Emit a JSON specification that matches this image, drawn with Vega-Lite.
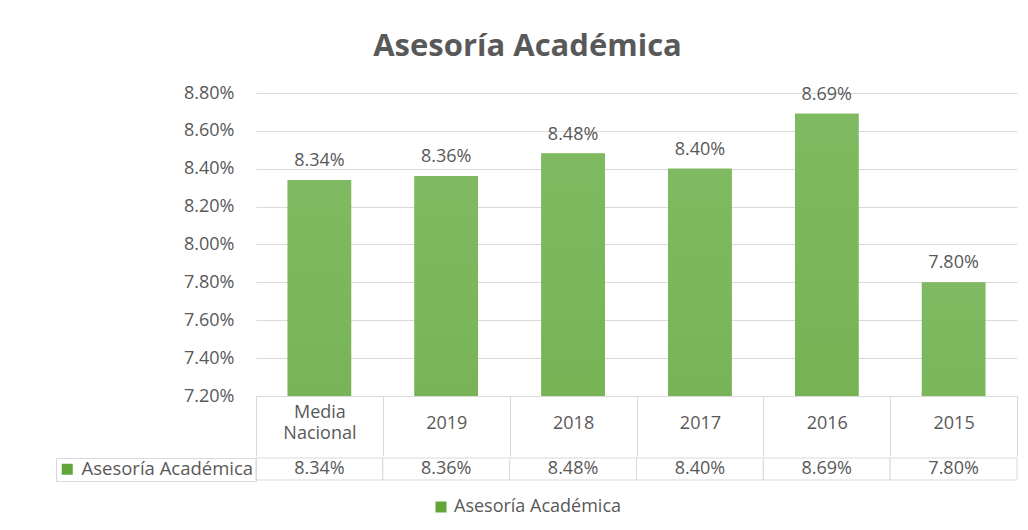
{
  "$schema": "https://vega.github.io/schema/vega-lite/v6.json",
  "padding": {"left": 55, "top": 31, "right": 10, "bottom": 10},
  "background": "white",
  "title": {
    "text": "Asesoría Académica",
    "font": "Open Sans",
    "fontSize": 31,
    "fontWeight": "bold",
    "color": "#595959",
    "anchor": "middle",
    "offset": 21,
    "dx": -9
  },
  "data": {
    "values": [
      {"category": "Media Nacional", "value": 0.0834, "series": "Asesoría Académica"},
      {"category": "2019", "value": 0.0836, "series": "Asesoría Académica"},
      {"category": "2018", "value": 0.0848, "series": "Asesoría Académica"},
      {"category": "2017", "value": 0.0840, "series": "Asesoría Académica"},
      {"category": "2016", "value": 0.0869, "series": "Asesoría Académica"},
      {"category": "2015", "value": 0.0780, "series": "Asesoría Académica"}
    ]
  },
  "spacing": 0,
  "resolve": {"scale": {"fill": "independent"}, "legend": {"fill": "independent"}},
  "vconcat": [
    {
      "width": 761,
      "height": 303,
      "encoding": {
        "x": {
          "field": "category",
          "type": "nominal",
          "sort": null,
          "scale": {"paddingInner": 0, "paddingOuter": 0},
          "axis": {
            "title": null,
            "labelAngle": 0,
            "labelExpr": "split(datum.label, ' ')",
            "labelLineHeight": 21,
            "labelBaseline": "middle",
            "labelFont": "Open Sans",
            "labelFontSize": 18,
            "labelColor": "#595959",
            "labelPadding": {"condition": {"test": "indexof(datum.label, ' ') >= 0", "value": -44}, "value": -33},
            "tickBand": "extent",
            "tickSize": 60,
            "tickColor": "#d9d9d9",
            "domainColor": "#d9d9d9",
            "labelOverlap": false,
            "grid": false
          }
        },
        "y": {
          "field": "value",
          "type": "quantitative",
          "scale": {"domain": [0.072, 0.088], "zero": false, "nice": false},
          "axis": {
            "title": null,
            "format": ".2%",
            "values": [0.072, 0.074, 0.076, 0.078, 0.080, 0.082, 0.084, 0.086, 0.088],
            "labelFont": "Open Sans",
            "labelFontSize": 18,
            "labelColor": "#595959",
            "labelPadding": 22,
            "ticks": false,
            "domain": false,
            "gridColor": "#d9d9d9"
          }
        }
      },
      "layer": [
        {
          "mark": {"type": "bar", "width": {"band": 0.5}, "clip": true},
          "encoding": {
            "color": {
              "field": "series",
              "type": "nominal",
              "scale": {"range": ["#62a63a"]},
              "legend": {
                "orient": "none",
                "legendX": 176,
                "legendY": 405,
                "title": null,
                "symbolType": "square",
                "symbolSize": 121,
                "symbolStrokeWidth": 0,
                "labelFont": "Open Sans",
                "labelFontSize": 18,
                "labelColor": "#595959",
                "labelLimit": 400,
                "labelOffset": 4
              }
            }
          }
        },
        {
          "mark": {
            "type": "bar",
            "width": {"band": 0.5},
            "clip": true,
            "color": {
              "gradient": "linear",
              "x1": 0, "y1": 0, "x2": 0, "y2": 1,
              "stops": [
                {"offset": 0, "color": "#7fb961"},
                {"offset": 0.5, "color": "#66a83c"},
                {"offset": 1, "color": "#569a2b"}
              ]
            }
          }
        },
        {
          "mark": {
            "type": "text",
            "baseline": "middle",
            "dy": -19,
            "font": "Open Sans",
            "fontSize": 18,
            "color": "#595959"
          },
          "encoding": {
            "text": {"field": "value", "type": "quantitative", "format": ".2%"}
          }
        }
      ]
    },
    {
      "width": 761,
      "height": 22,
      "encoding": {
        "x": {
          "field": "category",
          "type": "nominal",
          "sort": null,
          "scale": {"paddingInner": 0, "paddingOuter": 0},
          "axis": null
        }
      },
      "layer": [
        {
          "mark": {"type": "rect"},
          "encoding": {
            "fill": {
              "field": "series",
              "type": "nominal",
              "scale": {"range": ["#62a63a"]},
              "legend": {
                "orient": "left",
                "title": null,
                "offset": 0,
                "padding": 2,
                "strokeColor": "#d9d9d9",
                "symbolType": "square",
                "symbolSize": 121,
                "symbolOffset": 0,
                "labelFont": "Open Sans",
                "labelFontSize": 18.5,
                "labelColor": "#595959",
                "labelLimit": 400,
                "labelOffset": 5
              }
            }
          }
        },
        {
          "mark": {"type": "rect", "fill": "#ffffff", "stroke": "#d9d9d9", "strokeWidth": 1}
        },
        {
          "mark": {
            "type": "text",
            "baseline": "middle",
            "font": "Open Sans",
            "fontSize": 18,
            "color": "#595959"
          },
          "encoding": {
            "text": {"field": "value", "type": "quantitative", "format": ".2%"}
          }
        }
      ]
    }
  ],
  "config": {
    "view": {"stroke": null},
    "font": "Open Sans"
  }
}
